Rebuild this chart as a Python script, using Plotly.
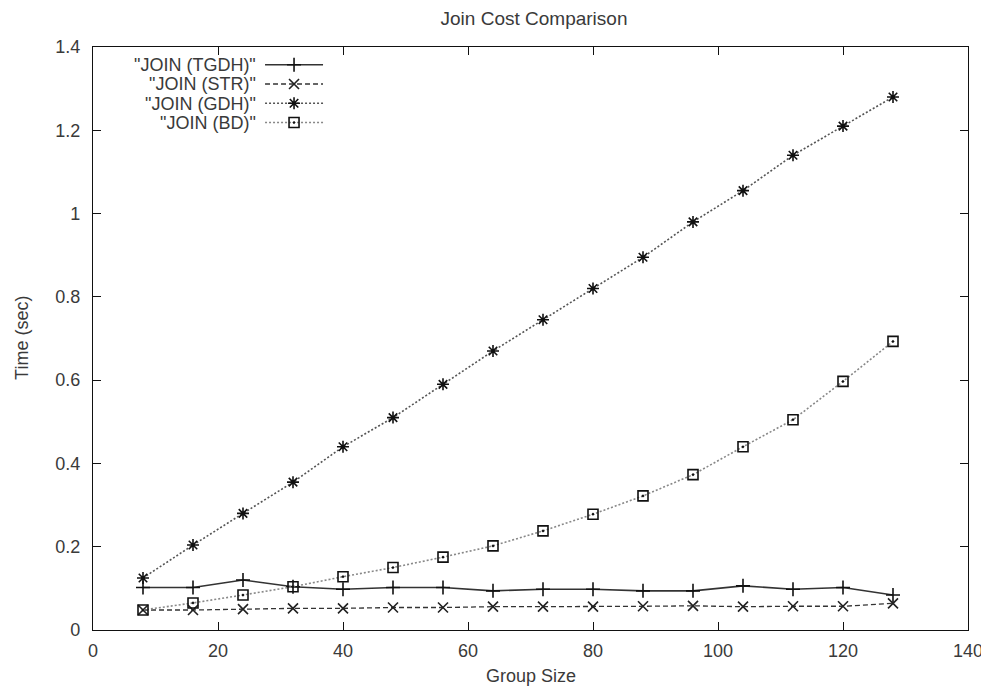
import plotly.graph_objects as go

group_size = [8, 16, 24, 32, 40, 48, 56, 64, 72, 80, 88, 96, 104, 112, 120, 128]
join_tgdh = [0.102, 0.102, 0.120, 0.104, 0.098, 0.102, 0.102, 0.094, 0.098, 0.098, 0.094, 0.094, 0.106, 0.098, 0.102, 0.084]
join_str = [0.048, 0.048, 0.050, 0.052, 0.052, 0.054, 0.054, 0.056, 0.056, 0.056, 0.057, 0.058, 0.056, 0.057, 0.057, 0.064]
join_gdh = [0.125, 0.204, 0.280, 0.355, 0.440, 0.510, 0.590, 0.670, 0.745, 0.820, 0.895, 0.980, 1.055, 1.140, 1.210, 1.280]
join_bd = [0.048, 0.065, 0.084, 0.104, 0.128, 0.150, 0.175, 0.202, 0.238, 0.278, 0.322, 0.373, 0.440, 0.505, 0.597, 0.693]

series_names = ['"JOIN (TGDH)"', '"JOIN (STR)"', '"JOIN (GDH)"', '"JOIN (BD)"']

x_ticks = [0, 20, 40, 60, 80, 100, 120, 140]
y_ticks = [0, 0.2, 0.4, 0.6, 0.8, 1.0, 1.2, 1.4]
y_tick_labels = ["0", "0.2", "0.4", "0.6", "0.8", "1", "1.2", "1.4"]

FONT = "Liberation Sans, Arial, sans-serif"
TXT = "#3a3a3a"
FS = 18

fig = go.Figure()

styles = [
    (dict(color="#333333", width=1.6, dash="solid"), "cross-thin-open", "#111111"),
    (dict(color="#333333", width=1.3, dash="5px,3px"), "x-thin-open", "#222222"),
    (dict(color="#555555", width=1.6, dash="2px,2px"), "asterisk-open", "#111111"),
    (dict(color="#888888", width=1.6, dash="2px,2px"), "square-open-dot", "#111111"),
]
values = [join_tgdh, join_str, join_gdh, join_bd]

for name, ys, (line, sym, mcol) in zip(series_names, values, styles):
    fig.add_trace(go.Scatter(
        x=group_size, y=ys, name=" ", legendgroup=name, mode="lines+markers",
        line=line, hovertext=name,
        marker=dict(symbol=sym, size=10, color=mcol, line=dict(color=mcol, width=1.6)),
    ))

axis_common = dict(
    showline=True, linecolor="#111111", linewidth=1.3, mirror="ticks",
    ticks="inside", ticklen=8, tickcolor="#111111", tickwidth=1.3,
    showgrid=False, zeroline=False,
    tickfont=dict(family=FONT, size=FS, color=TXT),
)

fig.update_xaxes(range=[0, 140], tickvals=x_ticks, ticklabelstandoff=4, **axis_common)
fig.update_yaxes(range=[0, 1.4], tickvals=y_ticks, ticktext=y_tick_labels, ticklabelstandoff=8, **axis_common)

# legend text (right-aligned, left of the samples, as in the reference)
legend_text_y = [0.969, 0.936, 0.903, 0.870]
annotations = [
    dict(text=n, xref="paper", yref="paper", x=0.1886, y=yy, xanchor="right", yanchor="middle",
         showarrow=False, font=dict(family=FONT, size=FS, color=TXT))
    for n, yy in zip(series_names, legend_text_y)
]
annotations += [
    dict(text="Group Size", xref="paper", yref="paper", x=0.5, y=0, yshift=-46,
         showarrow=False, yanchor="middle", font=dict(family=FONT, size=FS, color=TXT)),
    dict(text="Time (sec)", xref="paper", yref="paper", x=0, y=0.501, xshift=-71,
         showarrow=False, textangle=-90, xanchor="center", yanchor="middle",
         font=dict(family=FONT, size=FS, color=TXT)),
]

fig.update_layout(
    width=989, height=690,
    margin=dict(l=85, r=29, t=39, b=68),
    plot_bgcolor="white", paper_bgcolor="white",
    font=dict(family=FONT, color=TXT),
    title=dict(text="Join Cost Comparison", x=0.504, xref="paper", xanchor="center",
               y=1 - 10 / 690, yref="container", yanchor="middle",
               font=dict(family=FONT, size=19, color=TXT)),
    legend=dict(x=0.1909, y=0.9946, xanchor="left", yanchor="top", bgcolor="rgba(0,0,0,0)",
                font=dict(family=FONT, size=12.5, color=TXT), tracegroupgap=0, itemwidth=58,
                borderwidth=0),
    showlegend=True,
    annotations=annotations,
)

fig.write_html("out.html")
